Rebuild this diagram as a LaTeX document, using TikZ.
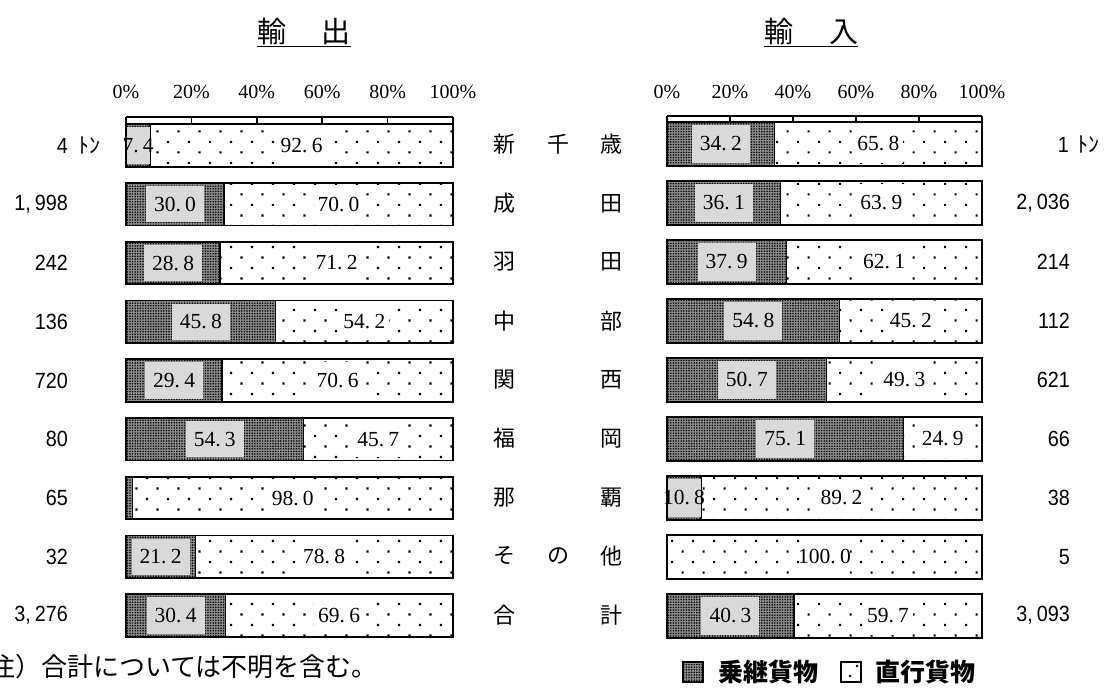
\documentclass[tikz,border=0pt]{standalone}
\usepackage{fontspec}
\setmainfont{Liberation Serif}
\newfontfamily\cjk{Noto Sans CJK JP}
\newfontfamily\numfont{Liberation Sans}[FakeStretch=0.9]
\usetikzlibrary{patterns.meta}

\def\fmtnum#1.#2\endfmt{#1.\kern.2em#2}
\def\cm{,\kern4pt}

\tikzset{
  transfer/.style={fill=black!45},
  transferdots/.style={pattern={Dots[distance=2.6pt,radius=0.85pt]},pattern color=black},
  directdots/.style={pattern={Dots[distance=14.85pt,angle=45,radius=1.45pt]},pattern color=black},
  lightbg/.style={fill=black!15},
  barline/.style={line width=1.8pt},
  segline/.style={line width=1.4pt},
  val/.style={inner sep=0pt,font=\fontsize{21.5pt}{25pt}\selectfont},
  axlab/.style={inner sep=0pt,font=\fontsize{20pt}{24pt}\selectfont},
  sidenum/.style={inner sep=0pt,anchor=east,font=\numfont\fontsize{22pt}{26pt}\selectfont},
  midlab/.style={inner sep=0pt,font=\cjk\fontsize{22pt}{26pt}\selectfont},
  ttl/.style={inner sep=0pt,font=\cjk\fontsize{29pt}{34pt}\selectfont},
  leg/.style={inner sep=0pt,anchor=west,font=\cjk\bfseries\fontsize{25pt}{30pt}\selectfont},
}

% #1 name, #2 x0, #3 width, #4 ytop, #5 height, #6 percent, #7 transfer label, #8 direct label
\newcommand\drawbarrow[8]{%
  \pgfmathsetmacro\xs{#2+(#6/100)*#3}%
  \pgfmathsetmacro\xe{#2+#3}%
  \pgfmathsetmacro\yb{#4+#5}%
  \pgfmathsetmacro\yc{#4+#5/2}%
  \pgfmathsetmacro\tc{(#2+\xs)/2}%
  \pgfmathsetmacro\dc{(\xs+\xe)/2}%
  \pgfmathsetmacro\tw{min(58,\xs-#2)}%
  \fill[white] (\xs,#4) rectangle (\xe,\yb);
  \fill[directdots] (\xs,#4) rectangle (\xe,\yb);
  \ifdim #6pt>0pt
    \fill[transfer] (#2,#4) rectangle (\xs,\yb);
    \fill[transferdots] (#2,#4) rectangle (\xs,\yb);
    \draw[segline] (\xs,#4) -- (\xs,\yb);
  \fi
  \if\relax\detokenize{#7}\relax\else
    \fill[lightbg] (\tc-\tw/2,#4+3) rectangle (\tc+\tw/2,\yb-3);
    \node[val] (#1t) at (\tc,\yc) {\fmtnum#7\endfmt};
  \fi
  \fill[white] (\dc-25,#4+3) rectangle (\dc+25,\yb-3);
  \node[val] (#1d) at (\dc,\yc) {\fmtnum#8\endfmt};
  \draw[barline] (#2,#4) rectangle (\xe,\yb);
}

\begin{document}
\begin{tikzpicture}[x=1pt,y=-1pt]
\useasboundingbox (0,0) rectangle (1105,688);

% titles
\node[ttl] (tl) at (304,31) {輸\hspace{36pt}出};
\draw[line width=1.8pt] ([yshift=-2pt]tl.south west) -- ([yshift=-2pt]tl.south east);
\node[ttl] (tr) at (811,31) {輸\hspace{36pt}入};
\draw[line width=1.8pt] ([yshift=-2pt]tr.south west) -- ([yshift=-2pt]tr.south east);

% axes
\foreach \k/\t in {0/0\%,1/20\%,2/40\%,3/60\%,4/80\%,5/100\%}{
  \node[axlab] (ax\k) at (126+65.4*\k,92) {\t};
  \node[axlab] (bx\k) at (667+63*\k,92) {\t};
  \draw[line width=1.6pt] (126+65.4*\k,117) -- (126+65.4*\k,124.3);
  \draw[line width=1.6pt] (667+63*\k,116) -- (667+63*\k,122);
}
\draw[line width=1.8pt] (126,117) -- (453,117);
\draw[line width=1.8pt] (667,116) -- (982,116);

% left bars
\foreach \i/\p/\a/\b in {0/7.4/7.4/92.6,1/30.0/30.0/70.0,2/28.8/28.8/71.2,3/45.8/45.8/54.2,4/29.4/29.4/70.6,5/54.3/54.3/45.7,6/2.0//98.0,7/21.2/21.2/78.8,8/30.4/30.4/69.6}{
  \pgfmathsetmacro\yt{124.3+58.75*\i}
  \edef\tmp{\noexpand\drawbarrow{L\i}{126}{327}{\yt}{42.4}{\p}{\a}{\b}}\tmp
}
% right bars
\foreach \i/\p/\a/\b in {0/34.2/34.2/65.8,1/36.1/36.1/63.9,2/37.9/37.9/62.1,3/54.8/54.8/45.2,4/50.7/50.7/49.3,5/75.1/75.1/24.9,6/10.8/10.8/89.2,7/0//100.0,8/40.3/40.3/59.7}{
  \pgfmathsetmacro\yt{122+58.95*\i}
  \edef\tmp{\noexpand\drawbarrow{R\i}{667}{315}{\yt}{44}{\p}{\a}{\b}}\tmp
}

% left side numbers
\node[sidenum] (ln0) at (68,145.5) {4\rlap{\hspace{11pt}\cjk ﾄﾝ}};
\node[sidenum] (ln1) at (68,204.3) {1\cm998};
\node[sidenum] (ln2) at (68,263.0) {242};
\node[sidenum] (ln3) at (68,321.8) {136};
\node[sidenum] (ln4) at (68,380.5) {720};
\node[sidenum] (ln5) at (68,439.3) {80};
\node[sidenum] (ln6) at (68,498.0) {65};
\node[sidenum] (ln7) at (68,556.8) {32};
\node[sidenum] (ln8) at (68,615.5) {3\cm276};

% right side numbers
\node[sidenum] (rn0) at (1069,144) {1\rlap{\hspace{9pt}\cjk ﾄﾝ}};
\node[sidenum] (rn1) at (1070,203) {2\cm036};
\node[sidenum] (rn2) at (1070,262) {214};
\node[sidenum] (rn3) at (1070,321) {112};
\node[sidenum] (rn4) at (1070,380) {621};
\node[sidenum] (rn5) at (1070,439) {66};
\node[sidenum] (rn6) at (1070,498) {38};
\node[sidenum] (rn7) at (1070,557) {5};
\node[sidenum] (rn8) at (1070,615.5) {3\cm093};

% middle airport names
\foreach \i/\a/\b/\c in {0/新/千/歳,1/成//田,2/羽//田,3/中//部,4/関//西,5/福//岡,6/那//覇,7/そ/の/他,8/合//計}{
  \pgfmathsetmacro\ym{144.5+58.8*\i}
  \node[midlab] (m\i a) at (504,\ym) {\a};
  \node[midlab] (m\i b) at (558,\ym) {\b};
  \node[midlab] (m\i c) at (611,\ym) {\c};
}

% note
\node[inner sep=0pt,anchor=west,font=\cjk\fontsize{26pt}{30pt}\selectfont] (note) at (-11,667) {注）合計については不明を含む。};

% legend
\fill[transfer] (683,662) rectangle (703,682);
\fill[transferdots] (683,662) rectangle (703,682);
\draw[line width=1.2pt] (683,662) rectangle (703,682);
\node[leg] (leg1) at (718,672) {乗継貨物};
\fill[white] (841,662) rectangle (861,682);
\fill[black] (857,666) circle (1.3pt) (850,676) circle (1.3pt);
\draw[line width=1.2pt] (841,662) rectangle (861,682);
\node[leg] (leg2) at (875,672) {直行貨物};
\end{tikzpicture}
\end{document}
